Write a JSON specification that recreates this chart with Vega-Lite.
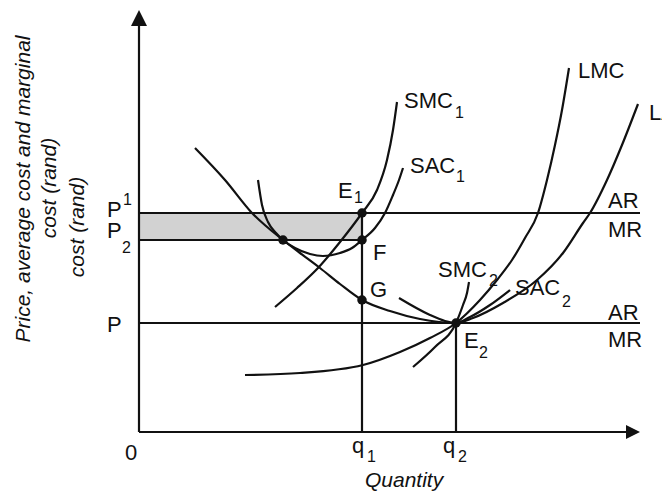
{
  "$schema": "https://vega.github.io/schema/vega-lite/v6.json",
  "width": 662,
  "height": 495,
  "autosize": "none",
  "padding": 0,
  "background": "white",
  "config": {"view": {"stroke": null}},
  "datasets": {
    "shade": [{"x": 0, "x2": 223, "y": 192, "y2": 219}],
    "segs": [
      {"name": "yaxis", "x": 0, "y": 0, "x2": 0, "y2": 408},
      {"name": "xaxis", "x": 0, "y": 0, "x2": 489, "y2": 0},
      {"name": "P1", "x": 0, "y": 219, "x2": 501, "y2": 219},
      {"name": "P2", "x": 0, "y": 192, "x2": 223, "y2": 192},
      {"name": "P", "x": 0, "y": 109, "x2": 501, "y2": 109},
      {"name": "q1", "x": 223, "y": 0, "x2": 223, "y2": 219},
      {"name": "q2", "x": 317, "y": 0, "x2": 317, "y2": 109}
    ],
    "curves": [
      {"c": "SMC1", "i": 0, "x": 136, "y": 125}, {"c": "SMC1", "i": 1, "x": 158, "y": 144}, {"c": "SMC1", "i": 2, "x": 179, "y": 164}, {"c": "SMC1", "i": 3, "x": 201, "y": 190}, {"c": "SMC1", "i": 4, "x": 223, "y": 219}, {"c": "SMC1", "i": 5, "x": 238, "y": 242}, {"c": "SMC1", "i": 6, "x": 248, "y": 272}, {"c": "SMC1", "i": 7, "x": 254, "y": 302}, {"c": "SMC1", "i": 8, "x": 258, "y": 330},
      {"c": "SAC1", "i": 0, "x": 119, "y": 252}, {"c": "SAC1", "i": 1, "x": 123, "y": 227}, {"c": "SAC1", "i": 2, "x": 129, "y": 210}, {"c": "SAC1", "i": 3, "x": 137, "y": 199}, {"c": "SAC1", "i": 4, "x": 144, "y": 192}, {"c": "SAC1", "i": 5, "x": 156, "y": 184}, {"c": "SAC1", "i": 6, "x": 171, "y": 178}, {"c": "SAC1", "i": 7, "x": 184, "y": 176}, {"c": "SAC1", "i": 8, "x": 201, "y": 179}, {"c": "SAC1", "i": 9, "x": 213, "y": 184}, {"c": "SAC1", "i": 10, "x": 223, "y": 192}, {"c": "SAC1", "i": 11, "x": 236, "y": 204}, {"c": "SAC1", "i": 12, "x": 246, "y": 219}, {"c": "SAC1", "i": 13, "x": 254, "y": 237}, {"c": "SAC1", "i": 14, "x": 260, "y": 252}, {"c": "SAC1", "i": 15, "x": 264, "y": 264},
      {"c": "LAC", "i": 0, "x": 56, "y": 284}, {"c": "LAC", "i": 1, "x": 86, "y": 252}, {"c": "LAC", "i": 2, "x": 113, "y": 219}, {"c": "LAC", "i": 3, "x": 144, "y": 192}, {"c": "LAC", "i": 4, "x": 161, "y": 179}, {"c": "LAC", "i": 5, "x": 181, "y": 164}, {"c": "LAC", "i": 6, "x": 201, "y": 148}, {"c": "LAC", "i": 7, "x": 223, "y": 132}, {"c": "LAC", "i": 8, "x": 251, "y": 121}, {"c": "LAC", "i": 9, "x": 281, "y": 113}, {"c": "LAC", "i": 10, "x": 317, "y": 109}, {"c": "LAC", "i": 11, "x": 334, "y": 114}, {"c": "LAC", "i": 12, "x": 364, "y": 129}, {"c": "LAC", "i": 13, "x": 398, "y": 152}, {"c": "LAC", "i": 14, "x": 424, "y": 179}, {"c": "LAC", "i": 15, "x": 444, "y": 209}, {"c": "LAC", "i": 16, "x": 451, "y": 219}, {"c": "LAC", "i": 17, "x": 468, "y": 252}, {"c": "LAC", "i": 18, "x": 483, "y": 287}, {"c": "LAC", "i": 19, "x": 499, "y": 328},
      {"c": "LMC", "i": 0, "x": 106, "y": 57}, {"c": "LMC", "i": 1, "x": 161, "y": 59}, {"c": "LMC", "i": 2, "x": 224, "y": 67}, {"c": "LMC", "i": 3, "x": 261, "y": 80}, {"c": "LMC", "i": 4, "x": 291, "y": 94}, {"c": "LMC", "i": 5, "x": 317, "y": 109}, {"c": "LMC", "i": 6, "x": 341, "y": 132}, {"c": "LMC", "i": 7, "x": 358, "y": 152}, {"c": "LMC", "i": 8, "x": 373, "y": 172}, {"c": "LMC", "i": 9, "x": 386, "y": 194}, {"c": "LMC", "i": 10, "x": 399, "y": 219}, {"c": "LMC", "i": 11, "x": 408, "y": 252}, {"c": "LMC", "i": 12, "x": 416, "y": 287}, {"c": "LMC", "i": 13, "x": 423, "y": 322}, {"c": "LMC", "i": 14, "x": 430, "y": 364},
      {"c": "SMC2", "i": 0, "x": 274, "y": 65}, {"c": "SMC2", "i": 1, "x": 296, "y": 85}, {"c": "SMC2", "i": 2, "x": 317, "y": 109}, {"c": "SMC2", "i": 3, "x": 324, "y": 127}, {"c": "SMC2", "i": 4, "x": 328, "y": 139}, {"c": "SMC2", "i": 5, "x": 330, "y": 150},
      {"c": "SAC2", "i": 0, "x": 260, "y": 134}, {"c": "SAC2", "i": 1, "x": 291, "y": 117}, {"c": "SAC2", "i": 2, "x": 306, "y": 111}, {"c": "SAC2", "i": 3, "x": 317, "y": 109}, {"c": "SAC2", "i": 4, "x": 331, "y": 115}, {"c": "SAC2", "i": 5, "x": 351, "y": 127}, {"c": "SAC2", "i": 6, "x": 371, "y": 142}
    ],
    "dots": [
      {"name": "E1", "x": 223, "y": 219},
      {"name": "F", "x": 223, "y": 192},
      {"name": "T", "x": 144, "y": 192},
      {"name": "G", "x": 223, "y": 132},
      {"name": "E2", "x": 317, "y": 109}
    ],
    "labels": [
      {"t": "SMC", "x": 265, "y": 324},
      {"t": "SAC", "x": 271, "y": 259},
      {"t": "LMC", "x": 439, "y": 354},
      {"t": "LAC", "x": 510, "y": 312},
      {"t": "E", "x": 199, "y": 234},
      {"t": "F", "x": 234, "y": 172},
      {"t": "G", "x": 231, "y": 135},
      {"t": "SMC", "x": 299, "y": 155},
      {"t": "SAC", "x": 376, "y": 137},
      {"t": "E", "x": 325, "y": 84},
      {"t": "AR", "x": 469, "y": 224},
      {"t": "MR", "x": 469, "y": 195},
      {"t": "AR", "x": 469, "y": 112},
      {"t": "MR", "x": 469, "y": 85},
      {"t": "P", "x": -32, "y": 215},
      {"t": "P", "x": -32, "y": 194},
      {"t": "P", "x": -32, "y": 100},
      {"t": "0", "x": -14, "y": -28},
      {"t": "q", "x": 213, "y": -21},
      {"t": "q", "x": 304, "y": -21}
    ],
    "subs": [
      {"t": "1", "x": 316, "y": 314},
      {"t": "1", "x": 317, "y": 250},
      {"t": "1", "x": 215, "y": 229},
      {"t": "2", "x": 350, "y": 146},
      {"t": "2", "x": 423, "y": 125},
      {"t": "2", "x": 340, "y": 74},
      {"t": "1", "x": -16, "y": 227},
      {"t": "2", "x": -17, "y": 179},
      {"t": "1", "x": 228, "y": -30},
      {"t": "2", "x": 319, "y": -30}
    ],
    "titles": [
      {"t": "Quantity", "x": 226, "y": -55}
    ],
    "ytitles": [
      {"t": "Price, average cost and marginal", "x": -115, "y": 243},
      {"t": "cost (rand)", "x": -89, "y": 244},
      {"t": "cost (rand)", "x": -61, "y": 205}
    ],
    "yarrow": [{"x": 0, "y": 414}],
    "xarrow": [{"x": 494, "y": 0}]
  },
  "encoding": {
    "x": {"field": "x", "type": "quantitative", "scale": {"domain": [-139, 523], "nice": false, "zero": false}, "axis": null},
    "y": {"field": "y", "type": "quantitative", "scale": {"domain": [-63, 432], "nice": false, "zero": false}, "axis": null}
  },
  "layer": [
    {
      "data": {"name": "shade"},
      "mark": {"type": "rect", "color": "#d2d2d2"},
      "encoding": {"x2": {"field": "x2"}, "y2": {"field": "y2"}}
    },
    {
      "data": {"name": "segs"},
      "mark": {"type": "rule", "color": "#111111", "strokeWidth": 2.2},
      "encoding": {"x2": {"field": "x2"}, "y2": {"field": "y2"}}
    },
    {
      "data": {"name": "curves"},
      "mark": {"type": "line", "interpolate": "monotone", "color": "#111111", "strokeWidth": 2.2},
      "encoding": {"detail": {"field": "c", "type": "nominal"}, "order": {"field": "i", "type": "quantitative"}}
    },
    {
      "data": {"name": "yarrow"},
      "mark": {"type": "point", "shape": "M0,-1L1,1L-1,1Z", "size": 256, "filled": true, "color": "#111111", "opacity": 1, "strokeWidth": 0}
    },
    {
      "data": {"name": "xarrow"},
      "mark": {"type": "point", "shape": "M1,0L-1,-1L-1,1Z", "size": 196, "filled": true, "color": "#111111", "opacity": 1, "strokeWidth": 0}
    },
    {
      "data": {"name": "dots"},
      "mark": {"type": "circle", "size": 90, "color": "#111111", "opacity": 1}
    },
    {
      "data": {"name": "labels"},
      "mark": {"type": "text", "align": "left", "baseline": "alphabetic", "font": "Liberation Sans", "fontSize": 22, "color": "#111111"},
      "encoding": {"text": {"field": "t"}}
    },
    {
      "data": {"name": "subs"},
      "mark": {"type": "text", "align": "left", "baseline": "alphabetic", "font": "Liberation Sans", "fontSize": 16, "color": "#111111"},
      "encoding": {"text": {"field": "t"}}
    },
    {
      "data": {"name": "titles"},
      "mark": {"type": "text", "align": "left", "baseline": "alphabetic", "font": "Liberation Sans", "fontStyle": "italic", "fontSize": 21, "color": "#111111"},
      "encoding": {"text": {"field": "t"}}
    },
    {
      "data": {"name": "ytitles"},
      "mark": {"type": "text", "align": "center", "baseline": "middle", "angle": 270, "font": "Liberation Sans", "fontStyle": "italic", "fontSize": 21, "color": "#111111"},
      "encoding": {"text": {"field": "t"}}
    }
  ]
}
